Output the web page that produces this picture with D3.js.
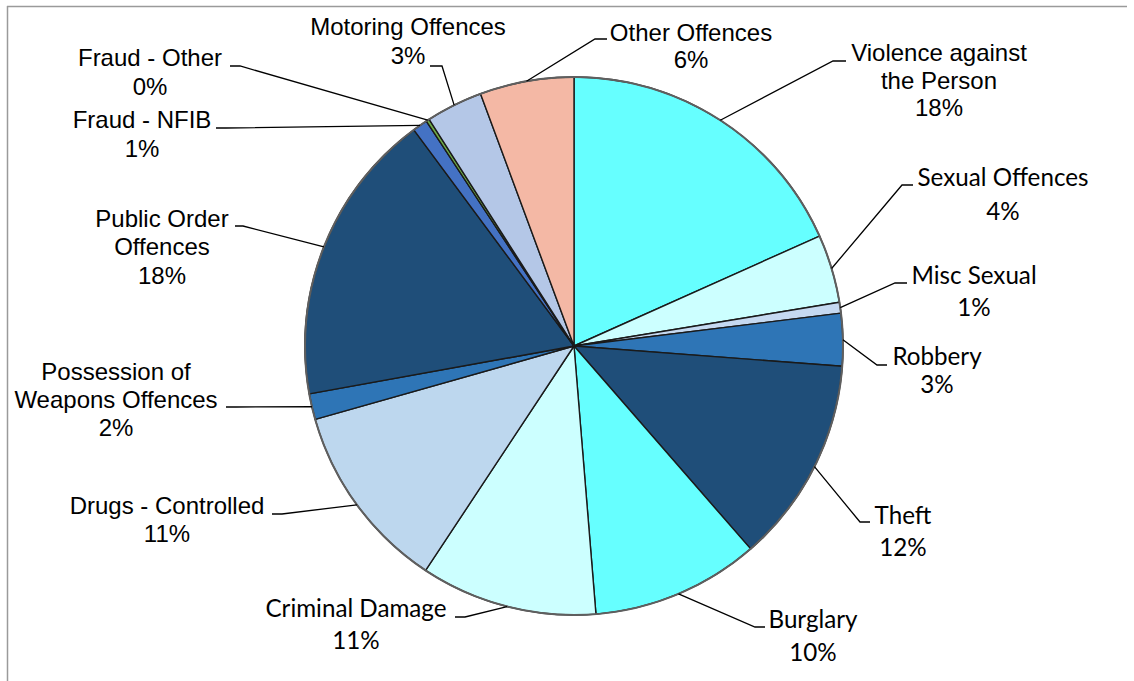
<!DOCTYPE html>
<html>
<head>
<meta charset="utf-8">
<script src="https://cdn.jsdelivr.net/npm/d3@7"></script>
<style>
  html, body { margin: 0; padding: 0; background: #fff; }
  svg { display: block; }
</style>
</head>
<body>
<svg id="chart" width="1134" height="681"></svg>
<script>
// ---- data ----
const categories = [
  "Violence against the Person", "Sexual Offences", "Misc Sexual", "Robbery", "Theft",
  "Burglary", "Criminal Damage", "Drugs - Controlled", "Possession of Weapons Offences",
  "Public Order Offences", "Fraud - NFIB", "Fraud - Other", "Motoring Offences", "Other Offences"
];
const values = [18.3, 4.1, 0.65, 3.15, 12.4, 10.1, 10.6, 11.3, 1.55, 17.7, 0.9, 0.2, 3.4, 5.65];
const labelLines = [
  ["Violence against", "the Person"], ["Sexual Offences"], ["Misc Sexual"], ["Robbery"], ["Theft"],
  ["Burglary"], ["Criminal Damage"], ["Drugs - Controlled"], ["Possession of", "Weapons Offences"],
  ["Public Order", "Offences"], ["Fraud - NFIB"], ["Fraud - Other"], ["Motoring Offences"], ["Other Offences"]
];

// ---- styles / layout ----
const colors = ["#66FFFF", "#CCFFFF", "#C5D9F1", "#2E75B6", "#1F4E79", "#66FFFF", "#CCFFFF",
  "#BDD7EE", "#2E75B6", "#1F4E79", "#4472C4", "#70AD47", "#B4C7E7", "#F4B8A5"];
const ARIAL = "'Liberation Sans', Arial, sans-serif";
const CALIBRI = "Lato, 'Open Sans', sans-serif";
const CAL_SIZE = 24.2;
// label placement: text centre x, first baseline y, line step, font, elbow point, end of horizontal
const labelLayout = [
  { x: 939, y: 61, dy: 27.5, f: ARIAL, size: 24, elbow: [833, 61], end: 846 },
  { x: 1003, y: 186, dy: 34, f: CALIBRI, size: CAL_SIZE, elbow: [902, 185], end: 913 },
  { x: 974, y: 284, dy: 32, f: CALIBRI, size: CAL_SIZE, elbow: [895, 283], end: 907 },
  { x: 937, y: 365, dy: 28, f: CALIBRI, size: CAL_SIZE, elbow: [877, 365], end: 887 },
  { x: 903, y: 524, dy: 32, f: CALIBRI, size: CAL_SIZE, elbow: [860, 522], end: 870 },
  { x: 813, y: 628, dy: 33, f: CALIBRI, size: CAL_SIZE, elbow: [755, 627], end: 765 },
  { x: 356, y: 617, dy: 32, f: CALIBRI, size: CAL_SIZE, elbow: [465, 617], end: 455 },
  { x: 167, y: 514, dy: 28, f: ARIAL, size: 24, elbow: [282, 514], end: 272 },
  { x: 116, y: 380, dy: 28, f: ARIAL, size: 24, elbow: [236, 407], end: 226 },
  { x: 162, y: 226.5, dy: 28.5, f: ARIAL, size: 24, elbow: [243, 226], end: 235 },
  { x: 142, y: 128, dy: 29, f: ARIAL, size: 24, elbow: [226, 128], end: 216 },
  { x: 150, y: 66, dy: 29, f: ARIAL, size: 24, elbow: [240, 66], end: 230 },
  { x: 408, y: 35, dy: 28.5, f: ARIAL, size: 24, elbow: [442, 66], end: 430 },
  { x: 691, y: 40.5, dy: 27, f: ARIAL, size: 24, elbow: [595, 39], end: 607 }
];

const svg = d3.select("#chart");
const cx = 574, cy = 346, R = 269;

// frame lines (top and left)
svg.append("line").attr("x1", 7).attr("y1", 6.5).attr("x2", 1127).attr("y2", 6.5)
  .attr("stroke", "#9a9a9a").attr("stroke-width", 1.5);
svg.append("line").attr("x1", 7.5).attr("y1", 6).attr("x2", 7.5).attr("y2", 681)
  .attr("stroke", "#9a9a9a").attr("stroke-width", 1.5);

const data = categories.map((c, i) => ({ cat: c, value: values[i], i }));
const total = d3.sum(values);
const pie = d3.pie().value(d => d.value).sort(null);
const arcs = pie(data);
const arc = d3.arc().innerRadius(0).outerRadius(R);
const edgeArc = d3.arc().innerRadius(R).outerRadius(R);

const g = svg.append("g").attr("transform", `translate(${cx},${cy})`);
g.selectAll("path.slice").data(arcs).join("path")
  .attr("class", "slice")
  .attr("d", arc)
  .attr("fill", d => colors[d.data.i])
  .attr("stroke", "#1a1a1a")
  .attr("stroke-width", 1.4)
  .attr("stroke-linejoin", "round");
g.append("circle").attr("r", R).attr("fill", "none")
  .attr("stroke", "#5f5f5f").attr("stroke-width", 2);

// leader lines and labels
const pct = d => Math.round(d.value / total * 100) + "%";
arcs.forEach(a => {
  const L = labelLayout[a.data.i];
  const p = edgeArc.centroid(a);
  const pts = [[p[0] + cx, p[1] + cy], L.elbow, [L.end, L.elbow[1]]];
  svg.append("path")
    .attr("d", d3.line()(pts))
    .attr("fill", "none").attr("stroke", "#000").attr("stroke-width", 1.3);
  const t = svg.append("text")
    .attr("text-anchor", "middle")
    .attr("font-family", L.f)
    .attr("font-size", L.size)
    .attr("fill", "#000");
  const lines = labelLines[a.data.i].concat([pct(a.data)]);
  lines.forEach((s, k) => {
    t.append("tspan").attr("x", L.x).attr("y", L.y + k * L.dy).text(s);
  });
});
</script>
</body>
</html>
